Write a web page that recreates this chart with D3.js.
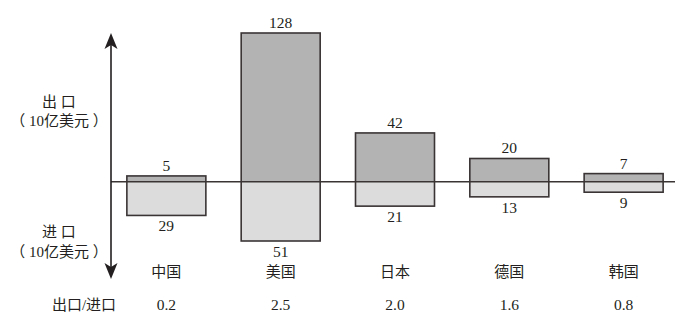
<!DOCTYPE html>
<html>
<head>
<meta charset="utf-8">
<script src="https://cdn.jsdelivr.net/npm/d3@7/dist/d3.min.js"></script>
<style>
  html, body { margin: 0; padding: 0; background: #fff; }
  svg { display: block; }
  text { fill: #231f20; }
  .num { font-family: "Liberation Serif", "DejaVu Serif", serif; font-size: 15.5px; }
  .cjk { font-family: "Liberation Serif", "Noto Sans CJK SC", serif; font-size: 15px; }
</style>
</head>
<body>
<svg id="chart" width="696" height="332"></svg>
<script>
// Trade with partner countries (billions of USD)
const countries = ["中国", "美国", "日本", "德国", "韩国"];
const exportsVal = [5, 128, 42, 20, 7];
const importsVal = [29, 51, 21, 13, 9];
const ratioLabels = ["0.2", "2.5", "2.0", "1.6", "0.8"];

const svg = d3.select("#chart");
const ink = "#231f20";
const edge = "#3a3435";

const x = d3.scaleBand()
  .domain(countries)
  .range([104, 686])
  .paddingInner(0.309)
  .paddingOuter(0.2);

// Exports above the zero line, imports below
const y = d3.scaleLinear()
  .domain([-51, 128])
  .range([241, 33]);

const zeroY = y(0);
const axisX = 111;

// Bars
const g = svg.append("g");
const rows = countries.map((c, i) => ({ c, ex: exportsVal[i], im: importsVal[i], r: ratioLabels[i] }));
const cx = d => x(d.c) + x.bandwidth() / 2;

g.selectAll("rect.ex").data(rows).join("rect")
  .attr("class", "ex")
  .attr("x", d => x(d.c))
  .attr("width", x.bandwidth())
  .attr("y", d => y(d.ex))
  .attr("height", d => zeroY - y(d.ex))
  .attr("fill", "#b3b3b3");

g.selectAll("rect.im").data(rows).join("rect")
  .attr("class", "im")
  .attr("x", d => x(d.c))
  .attr("width", x.bandwidth())
  .attr("y", zeroY)
  .attr("height", d => y(-d.im) - zeroY)
  .attr("fill", "#dcdcdc");

// Outline around each bar pair
g.selectAll("rect.box").data(rows).join("rect")
  .attr("class", "box")
  .attr("x", d => x(d.c))
  .attr("width", x.bandwidth())
  .attr("y", d => y(d.ex))
  .attr("height", d => y(-d.im) - y(d.ex))
  .attr("fill", "none")
  .attr("stroke", edge)
  .attr("stroke-width", 1.6);

// Zero line
svg.append("line")
  .attr("x1", axisX).attr("x2", 675)
  .attr("y1", zeroY).attr("y2", zeroY)
  .attr("stroke", edge).attr("stroke-width", 1.6);

// Vertical double-headed axis
const topTip = 33, botTip = 279;
svg.append("line")
  .attr("x1", axisX).attr("x2", axisX)
  .attr("y1", topTip + 10).attr("y2", botTip - 10)
  .attr("stroke", ink).attr("stroke-width", 1.6);

svg.append("path")
  .attr("d", `M${axisX},${topTip} L${axisX + 6.5},${topTip + 16} L${axisX},${topTip + 12} L${axisX - 6.5},${topTip + 16} Z`)
  .attr("fill", ink);
svg.append("path")
  .attr("d", `M${axisX},${botTip} L${axisX + 6.5},${botTip - 16} L${axisX},${botTip - 12} L${axisX - 6.5},${botTip - 16} Z`)
  .attr("fill", ink);

// Value labels
g.selectAll("text.exl").data(rows).join("text")
  .attr("class", "num")
  .attr("x", cx)
  .attr("y", d => y(d.ex) - 5)
  .attr("text-anchor", "middle")
  .text(d => d.ex);

g.selectAll("text.iml").data(rows).join("text")
  .attr("class", "num")
  .attr("x", cx)
  .attr("y", d => y(-d.im) + 16)
  .attr("text-anchor", "middle")
  .text(d => d.im);

// Category names
g.selectAll("text.cat").data(rows).join("text")
  .attr("class", "cjk")
  .attr("x", cx)
  .attr("y", 277)
  .attr("text-anchor", "middle")
  .text(d => d.c);

// Export/import ratio row
g.selectAll("text.ratio").data(rows).join("text")
  .attr("class", "num")
  .attr("x", cx)
  .attr("y", 310)
  .attr("text-anchor", "middle")
  .text(d => d.r);

svg.append("text").attr("class", "cjk")
  .attr("x", 84).attr("y", 310).attr("text-anchor", "middle")
  .text("出口/进口");

// Axis captions
const captions = [
  { t: "出 口", y: 107 },
  { t: "（ 10亿美元 ）", y: 126 },
  { t: "进 口", y: 237 },
  { t: "（ 10亿美元 ）", y: 257 }
];
svg.selectAll("text.cap").data(captions).join("text")
  .attr("class", "cjk")
  .attr("x", 59).attr("y", d => d.y)
  .attr("text-anchor", "middle")
  .text(d => d.t);
</script>
</body>
</html>
